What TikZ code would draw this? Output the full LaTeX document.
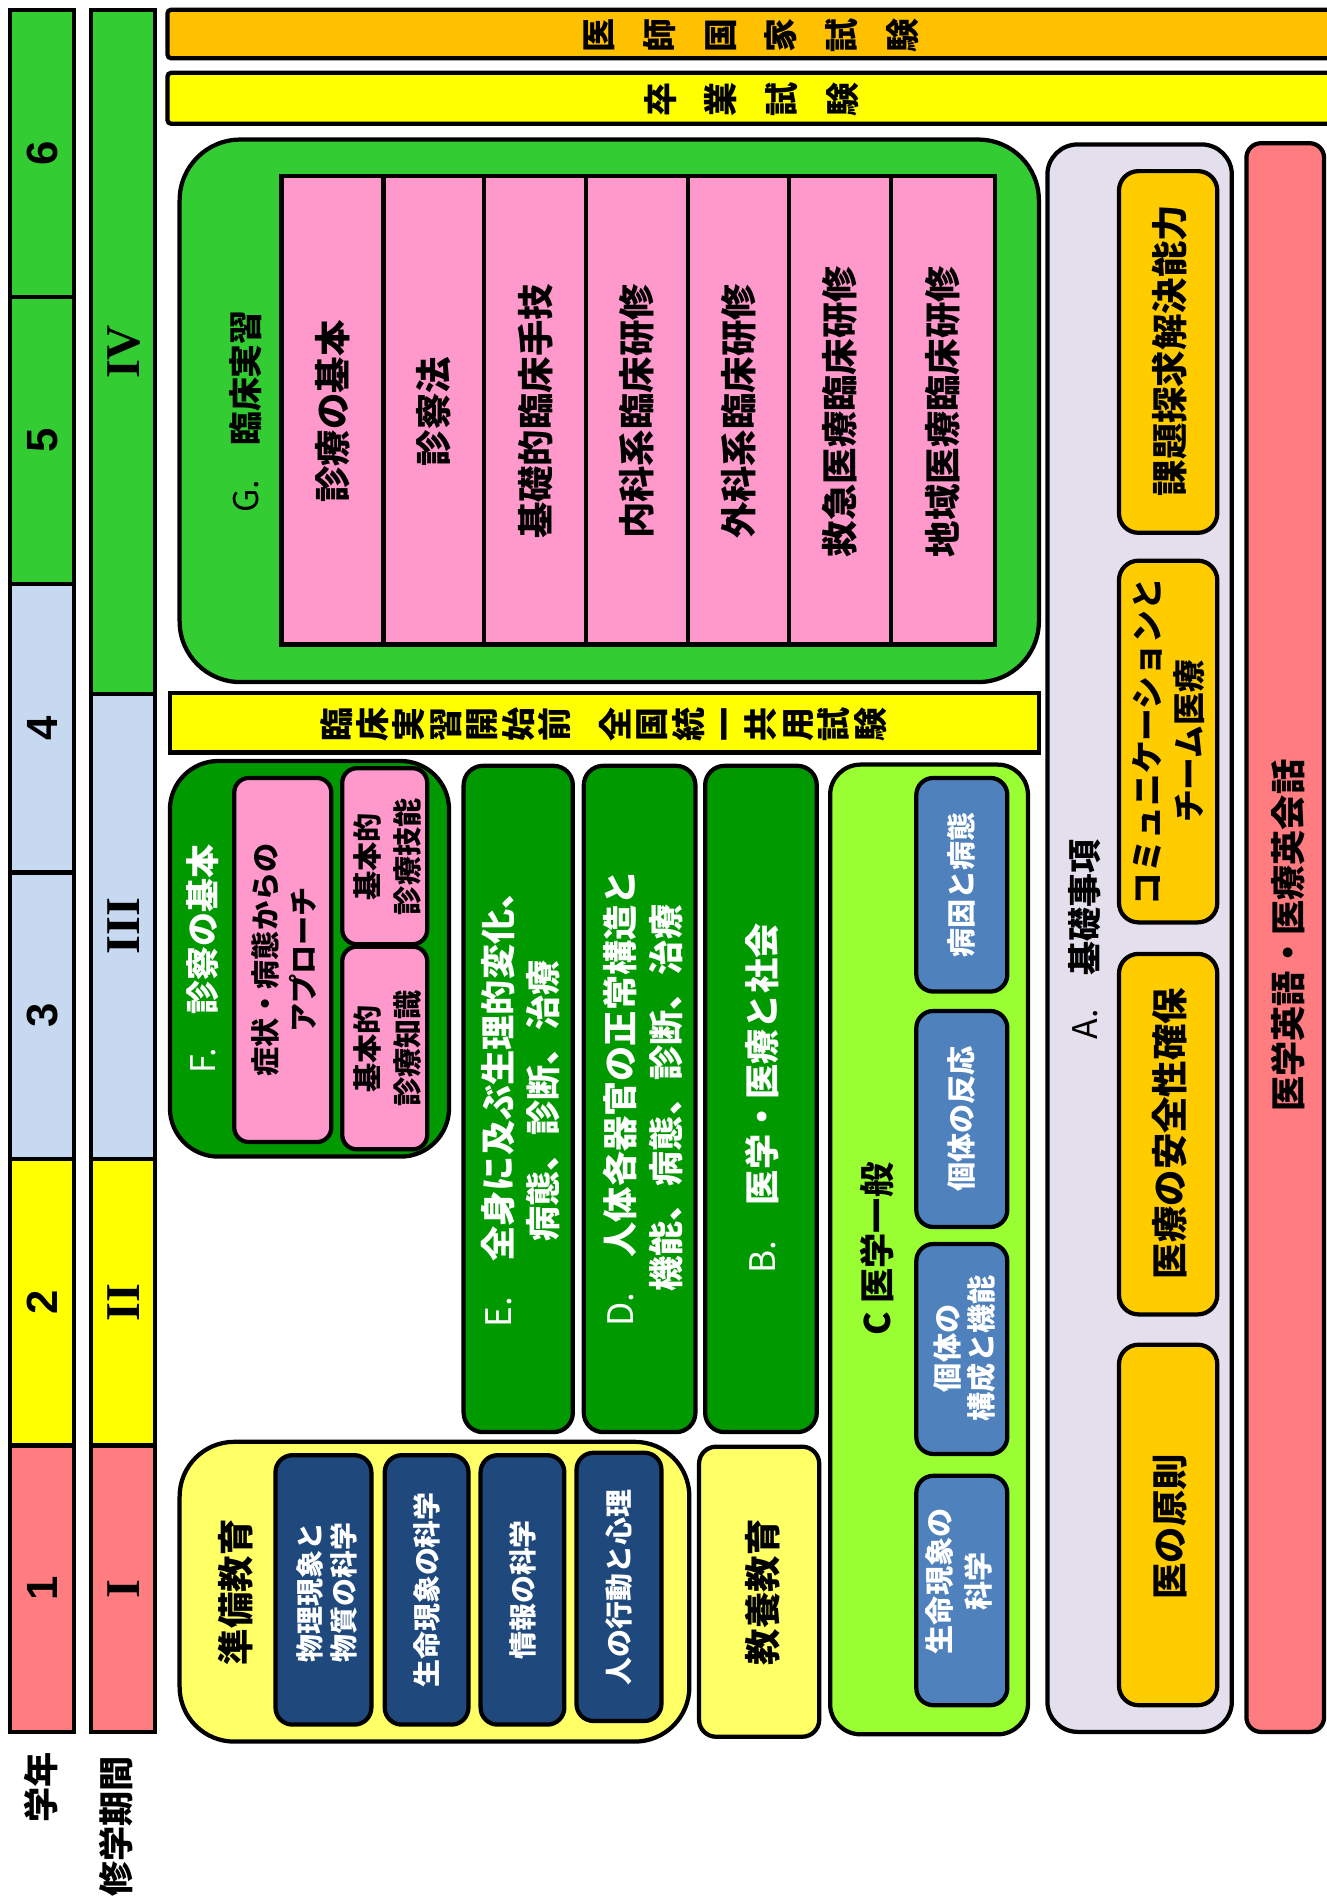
\documentclass[tikz,border=0pt]{standalone}
\usepackage{fontspec}
\setmainfont{Noto Sans CJK JP}
\newfontfamily\arialf{Liberation Sans}
\newfontfamily\romanf{Liberation Serif}
\definecolor{cSalmon}{HTML}{FF7C80}
\definecolor{cYel}{HTML}{FFFF00}
\definecolor{cLBlue}{HTML}{C6D9F1}
\definecolor{cGreen}{HTML}{33CC33}
\definecolor{cOrange}{HTML}{FFC000}
\definecolor{cPink}{HTML}{FF99CC}
\definecolor{cDGreen}{HTML}{009900}
\definecolor{cLime}{HTML}{99FF33}
\definecolor{cSteel}{HTML}{4F81BD}
\definecolor{cLYel}{HTML}{FFFF66}
\definecolor{cNavy}{HTML}{1F497D}
\definecolor{cLav}{HTML}{E4DFEC}
\definecolor{cGold}{HTML}{FFCC00}
\tikzset{
  bx/.style={draw=black, line width=3.5pt},
  txt/.style 2 args={rotate=90, align=center, inner sep=0pt,
     font=\bfseries\fontsize{#1}{#2}\selectfont},
  num/.style={rotate=90, inner sep=0pt, font=\arialf\bfseries\fontsize{36}{40}\selectfont},
  rom/.style={rotate=90, inner sep=0pt, font=\romanf\bfseries\fontsize{40}{44}\selectfont},
  wt/.style={text=white},
}
\begin{document}
\begin{tikzpicture}[x=1pt,y=-1pt]
\useasboundingbox (0,0) rectangle (1093,1568);
% ---------- year column ----------
\draw[bx, fill=cGreen]  (8,8) rectangle (61,245);
\draw[bx, fill=cGreen]  (8,245) rectangle (61,481);
\draw[bx, fill=cLBlue]  (8,481) rectangle (61,719);
\draw[bx, fill=cLBlue]  (8,719) rectangle (61,955);
\draw[bx, fill=cYel]    (8,955) rectangle (61,1191);
\draw[bx, fill=cSalmon] (8,1191) rectangle (61,1427);
\node[num] (y6) at (35,126) {6};
\node[num] (y5) at (35,363) {5};
\node[num] (y4) at (35,600) {4};
\node[num] (y3) at (35,837) {3};
\node[num] (y2) at (35,1073) {2};
\node[num] (y1) at (35,1309) {1};
% ---------- period column ----------
\draw[bx, fill=cGreen]  (75,8) rectangle (128,572);
\draw[bx, fill=cLBlue]  (75,572) rectangle (128,955);
\draw[bx, fill=cYel]    (75,955) rectangle (128,1191);
\draw[bx, fill=cSalmon] (75,1191) rectangle (128,1427);
\node[rom] (p4) at (102,290) {IV};
\node[rom] (p3) at (102,763) {III};
\node[rom] (p2) at (102,1073) {II};
\node[rom] (p1) at (102,1309) {I};
\node[txt={29}{34}] (lgakunen) at (34,1473) {学年};
\node[txt={29}{34}] (lkikan) at (96,1505) {修学期間};
% ---------- exam bars ----------
\draw[bx, fill=cOrange, rounded corners=3pt] (138,8) rectangle (1110,48);
\node[txt={28}{50}] (kokushi) at (619,29) {医\\師\\国\\家\\試\\験};
\draw[bx, fill=cYel, rounded corners=3pt] (138,60) rectangle (1110,102);
\node[txt={28}{50}] (sotsu) at (619,82) {卒\\業\\試\\験};
% ---------- G ----------
\draw[bx, fill=cGreen, rounded corners=50pt] (148,115) rectangle (856,562);
\node[txt={28}{34}] (glabel) at (202,339) {{\mdseries G.}\hspace{1em}臨床実習};
\draw[bx, fill=cPink] (232,145) rectangle (820,531);
\foreach \xx in {316,399,483,567,650,734} \draw[bx] (\xx,145) -- (\xx,531);
\node[txt={30}{36}] (g1) at (274,339) {診療の基本};
\node[txt={30}{36}] (g2) at (357.5,339) {診察法};
\node[txt={30}{36}] (g3) at (441,339) {基礎的臨床手技};
\node[txt={30}{36}] (g4) at (525,339) {内科系臨床研修};
\node[txt={30}{36}] (g5) at (608.5,339) {外科系臨床研修};
\node[txt={30}{36}] (g6) at (692,339) {救急医療臨床研修};
\node[txt={30}{36}] (g7) at (777,339) {地域医療臨床研修};
% ---------- CBT bar ----------
\draw[bx, fill=cYel] (140,571) rectangle (856,620);
\node[txt={28}{30}] (cbt) at (497,597) {臨\\床\\実\\習\\開\\始\\前\\[20pt]全\\国\\統\\一\\共\\用\\試\\験};
% ---------- F ----------
\draw[bx, fill=cDGreen, rounded corners=40pt] (140,627) rectangle (370,953);
\node[txt={28}{34}, wt] (flabel) at (167,790) {{\mdseries F.}\hspace{1em}診察の基本};
\draw[bx, fill=cPink, rounded corners=12pt] (193,641) rectangle (273,941);
\node[txt={24}{31}] (f1) at (234,791) {症状・病態からの\\アプローチ};
\draw[bx, fill=cPink, rounded corners=12pt] (282,633) rectangle (352,778);
\node[txt={24}{33}] (f2) at (319,706) {基本的\\診療技能};
\draw[bx, fill=cPink, rounded corners=12pt] (282,780) rectangle (352,947);
\node[txt={24}{33}] (f3) at (319,864) {基本的\\診療知識};
% ---------- E D B ----------
\draw[bx, fill=cDGreen, rounded corners=16pt] (382,631) rectangle (472,1180);
\node[txt={29}{37}, wt] (etext) at (429,907) {{\mdseries E.}\hspace{1em}全身に及ぶ生理的変化、\\病態、診断、治療};
\draw[bx, fill=cDGreen, rounded corners=16pt] (481,631) rectangle (573,1180);
\node[txt={29}{38}, wt] (dtext) at (530,905) {{\mdseries D.}\hspace{1em}人体各器官の正常構造と\\機能、病態、診断、治療};
\draw[bx, fill=cDGreen, rounded corners=16pt] (581,631) rectangle (673,1180);
\node[txt={29}{38}, wt] (btext) at (628,905) {{\mdseries B.}\hspace{1em}医学・医療と社会};
% ---------- C ----------
\draw[bx, fill=cLime, rounded corners=25pt] (684,630) rectangle (847,1429);
\node[txt={29}{34}] (clabel) at (723,1029) {C 医学一般};
\draw[bx, fill=cSteel, rounded corners=14pt] (755,641) rectangle (830,817);
\node[txt={24}{30}, wt] (c1) at (792,729) {病因と病態};
\draw[bx, fill=cSteel, rounded corners=14pt] (755,833) rectangle (830,1011);
\node[txt={24}{30}, wt] (c2) at (792,922) {個体の反応};
\draw[bx, fill=cSteel, rounded corners=14pt] (755,1025) rectangle (830,1198);
\node[txt={24}{28}, wt] (c3) at (795,1111) {個体の\\構成と機能};
\draw[bx, fill=cSteel, rounded corners=14pt] (755,1216) rectangle (830,1405);
\node[txt={24}{32}, wt] (c4) at (790,1303) {生命現象の\\科学};
% ---------- preparatory ----------
\draw[bx, fill=cLYel, rounded corners=45pt] (148,1188) rectangle (568,1435);
\node[txt={30}{34}] (junbi) at (194,1312) {準備教育};
\draw[bx, fill=cNavy, rounded corners=14pt] (227,1199) rectangle (306,1421);
\node[txt={23}{28}, wt] (j1) at (269,1312) {物理現象と\\物質の科学};
\draw[bx, fill=cNavy, rounded corners=14pt] (317,1199) rectangle (386,1421);
\node[txt={23}{28}, wt] (j2) at (352,1310) {生命現象の科学};
\draw[bx, fill=cNavy, rounded corners=14pt] (396,1199) rectangle (465,1421);
\node[txt={23}{28}, wt] (j3) at (431,1310) {情報の科学};
\draw[bx, fill=cNavy, rounded corners=14pt] (475,1197) rectangle (545,1418);
\node[txt={23}{28}, wt] (j4) at (510,1308) {人の行動と心理};
\draw[bx, fill=cLYel, rounded corners=14pt] (576,1192) rectangle (675,1431);
\node[txt={30}{34}] (kyoyo) at (628,1312) {教養教育};
% ---------- A ----------
\draw[bx, fill=cLav, rounded corners=25pt] (863,119) rectangle (1015,1427);
\node[txt={28}{34}] (alabel) at (894,774) {{\mdseries A.}\hspace{1em}基礎事項};
\draw[bx, fill=cGold, rounded corners=16pt] (922,141) rectangle (1003,439);
\node[txt={30}{36}] (a1) at (964,289) {課題探求解決能力};
\draw[bx, fill=cGold, rounded corners=16pt] (922,462) rectangle (1003,760);
\node[txt={27}{35}] (a2) at (963,611) {コミュニケーションと\\チーム医療};
\draw[bx, fill=cGold, rounded corners=16pt] (922,786) rectangle (1003,1083);
\node[txt={30}{36}] (a3) at (964,934) {医療の安全性確保};
\draw[bx, fill=cGold, rounded corners=16pt] (922,1108) rectangle (1003,1405);
\node[txt={30}{36}] (a4) at (964,1258) {医の原則};
% ---------- English ----------
\draw[bx, fill=cSalmon, rounded corners=12pt] (1027,118) rectangle (1091,1427);
\node[txt={29}{34}] (eng) at (1061,771) {医学英語・医療英会話};
\end{tikzpicture}
\end{document}
